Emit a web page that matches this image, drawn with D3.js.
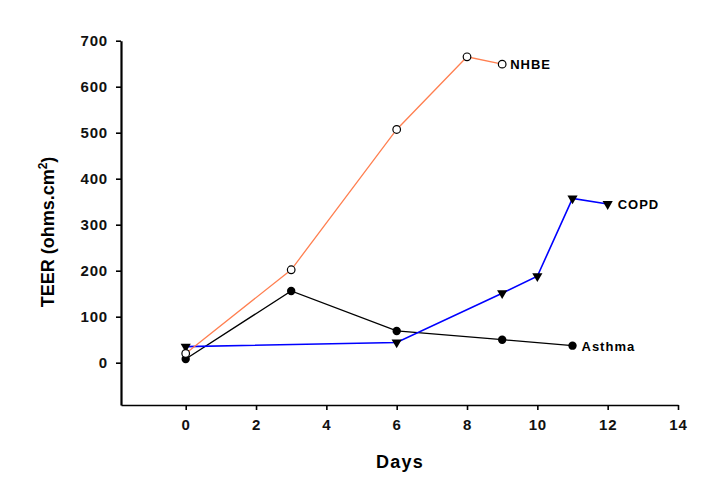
<!DOCTYPE html>
<html><head><meta charset="utf-8">
<script src="https://cdn.jsdelivr.net/npm/d3@7"></script>
<style>body{margin:0;background:#fff}svg{display:block}text{font-family:Arial,"Liberation Sans",sans-serif}</style>
</head><body><svg id="c" width="718" height="478"></svg>
<script>
const nhbeDays=[0,3,6,8,9];
const nhbeVals=[20,202,507,665,649];
const copdDays=[0,6,9,10,11,12];
const copdVals=[35,44,151,188,357,345];
const asthmaDays=[0,3,6,9,11];
const asthmaVals=[8,156,69,50,37];
const xTicks=[0,2,4,6,8,10,12,14];
const yTicks=[0,100,200,300,400,500,600,700];
const seriesNames=["NHBE","COPD","Asthma"];

const svg=d3.select("#c");
const x=d3.scaleLinear().domain([-1.84,14]).range([121,678]);
const y=d3.scaleLinear().domain([-92,700]).range([405,40.7]);

// axes
const gx=svg.append("g").attr("transform","translate(0,405)")
 .call(d3.axisBottom(x).tickValues(xTicks).tickSize(5).tickSizeOuter(0).tickPadding(9).tickFormat(d3.format("d")));
gx.select(".domain").attr("stroke","#000").attr("stroke-width",1.6);
const gy=svg.append("g").attr("transform","translate(121,0)")
 .call(d3.axisLeft(y).tickValues(yTicks).tickSize(5).tickSizeOuter(0).tickPadding(8).tickFormat(d3.format("d")));
gy.select(".domain").attr("stroke","#000").attr("stroke-width",2.2);
svg.selectAll(".tick line").attr("stroke","#000").attr("stroke-width",1.6);
svg.selectAll(".tick text").attr("font-size",15).attr("font-weight","bold").attr("fill","#111").attr("letter-spacing",0.8);

// titles
svg.append("text").attr("x",400).attr("y",468).attr("text-anchor","middle")
 .attr("font-size",18).attr("font-weight","bold").attr("letter-spacing",1.3).text("Days");
const yt=svg.append("text").attr("transform","translate(54,232) rotate(-90)").attr("text-anchor","middle")
 .attr("font-size",18).attr("font-weight","bold");
yt.append("tspan").text("TEER (ohms.cm");
yt.append("tspan").attr("font-size",12).attr("dy",-7).text("2");
yt.append("tspan").attr("dy",7).text(")");

const line=d3.line().x(d=>x(d[0])).y(d=>y(d[1]));
const mk=(days,vals)=>days.map((d,i)=>[d,vals[i]]);
const nhbe=mk(nhbeDays,nhbeVals), copd=mk(copdDays,copdVals), asthma=mk(asthmaDays,asthmaVals);

svg.append("path").datum(asthma).attr("d",line).attr("fill","none").attr("stroke","#000").attr("stroke-width",1.3);
svg.append("path").datum(copd).attr("d",line).attr("fill","none").attr("stroke","#0000ff").attr("stroke-width",1.6);
svg.append("path").datum(nhbe).attr("d",line).attr("fill","none").attr("stroke","#ff7f50").attr("stroke-width",1.3);

// markers
svg.selectAll(".am").data(asthma).enter().append("circle")
 .attr("cx",d=>x(d[0])).attr("cy",d=>y(d[1])).attr("r",4.2).attr("fill","#000");
const tri=d3.symbol().type(d3.symbolTriangle).size(45);
svg.selectAll(".cm").data(copd).enter().append("path").attr("d",tri)
 .attr("transform",d=>`translate(${x(d[0])},${y(d[1])}) rotate(180)`).attr("fill","#000");
svg.selectAll(".nm").data(nhbe).enter().append("circle")
 .attr("cx",d=>x(d[0])).attr("cy",d=>y(d[1])).attr("r",3.8).attr("fill","#fff").attr("stroke","#000").attr("stroke-width",1.2);

// series labels
const lab=[[nhbe,seriesNames[0],8],[copd,seriesNames[1],10],[asthma,seriesNames[2],9]];
lab.forEach(([s,n,dx])=>{const p=s[s.length-1];
 svg.append("text").attr("x",x(p[0])+dx).attr("y",y(p[1])+5).attr("font-size",13).attr("font-weight","bold").attr("letter-spacing",1).text(n);});
</script></body></html>
